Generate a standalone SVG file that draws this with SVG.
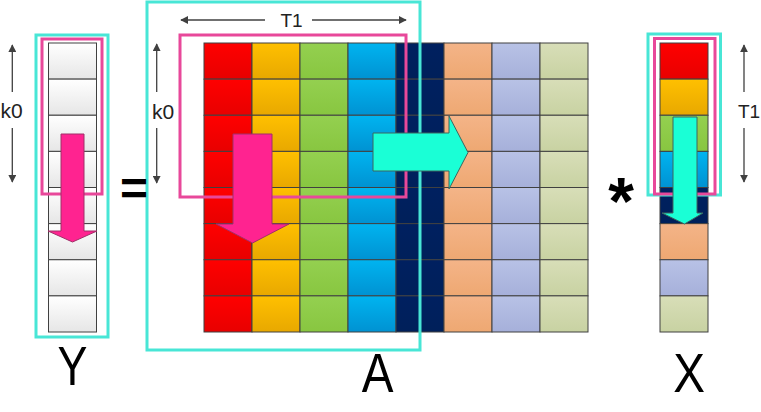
<svg xmlns="http://www.w3.org/2000/svg" width="761" height="412" viewBox="0 0 761 412">
<defs>
<linearGradient id="gRed" x1="0" y1="0" x2="0" y2="1"><stop offset="0" stop-color="#ff0000"/><stop offset="1" stop-color="#e80000"/></linearGradient>
<linearGradient id="gYel" x1="0" y1="0" x2="0" y2="1"><stop offset="0" stop-color="#ffc000"/><stop offset="1" stop-color="#e8a800"/></linearGradient>
<linearGradient id="gGrn" x1="0" y1="0" x2="0" y2="1"><stop offset="0" stop-color="#94d050"/><stop offset="1" stop-color="#88c640"/></linearGradient>
<linearGradient id="gBlu" x1="0" y1="0" x2="0" y2="1"><stop offset="0" stop-color="#00b4f0"/><stop offset="1" stop-color="#0092d2"/></linearGradient>
<linearGradient id="gNav" x1="0" y1="0" x2="0" y2="1"><stop offset="0" stop-color="#002060"/><stop offset="1" stop-color="#00205a"/></linearGradient>
<linearGradient id="gPch" x1="0" y1="0" x2="0" y2="1"><stop offset="0" stop-color="#f4b488"/><stop offset="1" stop-color="#eea872"/></linearGradient>
<linearGradient id="gLav" x1="0" y1="0" x2="0" y2="1"><stop offset="0" stop-color="#b8c2e6"/><stop offset="1" stop-color="#a6b0da"/></linearGradient>
<linearGradient id="gSag" x1="0" y1="0" x2="0" y2="1"><stop offset="0" stop-color="#d8deb8"/><stop offset="1" stop-color="#c8d2a2"/></linearGradient>
<linearGradient id="gWht" x1="0" y1="0" x2="0" y2="1"><stop offset="0" stop-color="#ffffff"/><stop offset="1" stop-color="#e6e6e6"/></linearGradient>
<marker id="ah" viewBox="0 0 10 10" refX="9" refY="5" markerWidth="8" markerHeight="8" markerUnits="userSpaceOnUse" orient="auto-start-reverse"><path d="M0,0 L10,5 L0,10 Z" fill="#404040"/></marker>
</defs>
<style>
.cell{stroke:#404040;stroke-width:1}
.r{fill:url(#gRed)} .y{fill:url(#gYel)} .g{fill:url(#gGrn)} .b{fill:url(#gBlu)} .n{fill:url(#gNav)} .p{fill:url(#gPch)} .l{fill:url(#gLav)} .s{fill:url(#gSag)} .w{fill:url(#gWht)}
.cyanbox{fill:none;stroke:#48e6d6;stroke-width:3}
.pinkbox{fill:none;stroke:#e8489a;stroke-width:3}
.dim{stroke:#404040;stroke-width:1.3;fill:none}
.lbl{font-family:"Liberation Sans",Arial,sans-serif;fill:#222222;font-size:19px;text-anchor:middle}
.k{font-size:21px}
.big{font-family:"Liberation Sans",Arial,sans-serif;fill:#000000;font-size:56px;text-anchor:middle}
.op{font-family:"Liberation Sans",Arial,sans-serif;fill:#000000;font-weight:bold;text-anchor:middle}
.parr{fill:#ff2390;stroke:#a03068;stroke-width:1}
.carr{fill:#1affd6;stroke:#3c6660;stroke-width:1}
</style>
<rect width="761" height="412" fill="#ffffff"/>

<g id="matrixA">
<g class="cell">
<rect class="r" x="204" y="43" width="48" height="36.125"/><rect class="r" x="204" y="79.125" width="48" height="36.125"/><rect class="r" x="204" y="115.25" width="48" height="36.125"/><rect class="r" x="204" y="151.375" width="48" height="36.125"/><rect class="r" x="204" y="187.5" width="48" height="36.125"/><rect class="r" x="204" y="223.625" width="48" height="36.125"/><rect class="r" x="204" y="259.75" width="48" height="36.125"/><rect class="r" x="204" y="295.875" width="48" height="36.125"/>
<rect class="y" x="252" y="43" width="48" height="36.125"/><rect class="y" x="252" y="79.125" width="48" height="36.125"/><rect class="y" x="252" y="115.25" width="48" height="36.125"/><rect class="y" x="252" y="151.375" width="48" height="36.125"/><rect class="y" x="252" y="187.5" width="48" height="36.125"/><rect class="y" x="252" y="223.625" width="48" height="36.125"/><rect class="y" x="252" y="259.75" width="48" height="36.125"/><rect class="y" x="252" y="295.875" width="48" height="36.125"/>
<rect class="g" x="300" y="43" width="48" height="36.125"/><rect class="g" x="300" y="79.125" width="48" height="36.125"/><rect class="g" x="300" y="115.25" width="48" height="36.125"/><rect class="g" x="300" y="151.375" width="48" height="36.125"/><rect class="g" x="300" y="187.5" width="48" height="36.125"/><rect class="g" x="300" y="223.625" width="48" height="36.125"/><rect class="g" x="300" y="259.75" width="48" height="36.125"/><rect class="g" x="300" y="295.875" width="48" height="36.125"/>
<rect class="b" x="348" y="43" width="48" height="36.125"/><rect class="b" x="348" y="79.125" width="48" height="36.125"/><rect class="b" x="348" y="115.25" width="48" height="36.125"/><rect class="b" x="348" y="151.375" width="48" height="36.125"/><rect class="b" x="348" y="187.5" width="48" height="36.125"/><rect class="b" x="348" y="223.625" width="48" height="36.125"/><rect class="b" x="348" y="259.75" width="48" height="36.125"/><rect class="b" x="348" y="295.875" width="48" height="36.125"/>
<rect class="n" x="396" y="43" width="48" height="36.125"/><rect class="n" x="396" y="79.125" width="48" height="36.125"/><rect class="n" x="396" y="115.25" width="48" height="36.125"/><rect class="n" x="396" y="151.375" width="48" height="36.125"/><rect class="n" x="396" y="187.5" width="48" height="36.125"/><rect class="n" x="396" y="223.625" width="48" height="36.125"/><rect class="n" x="396" y="259.75" width="48" height="36.125"/><rect class="n" x="396" y="295.875" width="48" height="36.125"/>
<rect class="p" x="444" y="43" width="48" height="36.125"/><rect class="p" x="444" y="79.125" width="48" height="36.125"/><rect class="p" x="444" y="115.25" width="48" height="36.125"/><rect class="p" x="444" y="151.375" width="48" height="36.125"/><rect class="p" x="444" y="187.5" width="48" height="36.125"/><rect class="p" x="444" y="223.625" width="48" height="36.125"/><rect class="p" x="444" y="259.75" width="48" height="36.125"/><rect class="p" x="444" y="295.875" width="48" height="36.125"/>
<rect class="l" x="492" y="43" width="48" height="36.125"/><rect class="l" x="492" y="79.125" width="48" height="36.125"/><rect class="l" x="492" y="115.25" width="48" height="36.125"/><rect class="l" x="492" y="151.375" width="48" height="36.125"/><rect class="l" x="492" y="187.5" width="48" height="36.125"/><rect class="l" x="492" y="223.625" width="48" height="36.125"/><rect class="l" x="492" y="259.75" width="48" height="36.125"/><rect class="l" x="492" y="295.875" width="48" height="36.125"/>
<rect class="s" x="540" y="43" width="48" height="36.125"/><rect class="s" x="540" y="79.125" width="48" height="36.125"/><rect class="s" x="540" y="115.25" width="48" height="36.125"/><rect class="s" x="540" y="151.375" width="48" height="36.125"/><rect class="s" x="540" y="187.5" width="48" height="36.125"/><rect class="s" x="540" y="223.625" width="48" height="36.125"/><rect class="s" x="540" y="259.75" width="48" height="36.125"/><rect class="s" x="540" y="295.875" width="48" height="36.125"/>
</g>
<rect class="cyanbox" x="147" y="2" width="273" height="348"/>
<rect class="pinkbox" x="180" y="35" width="226" height="162"/>
<text class="lbl" x="291.5" y="27">T1</text>
<text class="lbl k" x="163" y="119">k0</text>
<text class="big" transform="translate(377.5,392) scale(0.85,1)">A</text>
</g>

<g id="vectorY">
<g class="cell">
<rect class="w" x="48.5" y="43" width="48" height="36.125"/><rect class="w" x="48.5" y="79.125" width="48" height="36.125"/><rect class="w" x="48.5" y="115.25" width="48" height="36.125"/><rect class="w" x="48.5" y="151.375" width="48" height="36.125"/><rect class="w" x="48.5" y="187.5" width="48" height="36.125"/><rect class="w" x="48.5" y="223.625" width="48" height="36.125"/><rect class="w" x="48.5" y="259.75" width="48" height="36.125"/><rect class="w" x="48.5" y="295.875" width="48" height="36.125"/>
</g>
<rect class="cyanbox" x="36" y="35" width="72" height="302"/>
<rect class="pinkbox" x="42" y="39" width="60" height="155"/>
<text class="lbl k" x="11.5" y="118">k0</text>
<text class="big" transform="translate(72.5,385) scale(0.8,1)">Y</text>
</g>

<g id="vectorX">
<g class="cell">
<rect class="r" x="660" y="43" width="48" height="36.125"/><rect class="y" x="660" y="79.125" width="48" height="36.125"/><rect class="g" x="660" y="115.25" width="48" height="36.125"/><rect class="b" x="660" y="151.375" width="48" height="36.125"/><rect class="n" x="660" y="187.5" width="48" height="36.125"/><rect class="p" x="660" y="223.625" width="48" height="36.125"/><rect class="l" x="660" y="259.75" width="48" height="36.125"/><rect class="s" x="660" y="295.875" width="48" height="36.125"/>
</g>
<rect class="cyanbox" x="648" y="34" width="72.5" height="161"/>
<rect class="pinkbox" x="654.5" y="38.5" width="60.5" height="155.5"/>
<text class="lbl" x="749" y="118">T1</text>
<text class="big" transform="translate(689,392) scale(0.85,1)">X</text>
</g>

<g id="operators">
<text class="op" x="134" y="205" font-size="48">=</text>
<text class="op" x="621" y="224" font-size="66">*</text>
</g>

<g id="connectors">
<polygon class="parr" points="61,134 84,134 84,231 97,231 72.5,242 48,231 61,231"/>
<polygon class="parr" points="233,134 272,134 272,224 289,224 252.5,243 216,224 233,224"/>
<polygon class="carr" points="373,133 449,133 449,116 468,152.5 449,189 449,171 373,171"/>
<polygon class="carr" points="673,117 697,117 697,213 703,213 684.5,224 662,213 673,213"/>
<line class="dim" x1="265" y1="20" x2="181" y2="20" marker-end="url(#ah)"/>
<line class="dim" x1="312" y1="20" x2="406" y2="20" marker-end="url(#ah)"/>
<line class="dim" x1="156.7" y1="92" x2="156.7" y2="44" marker-end="url(#ah)"/>
<line class="dim" x1="156.7" y1="128" x2="156.7" y2="183" marker-end="url(#ah)"/>
<line class="dim" x1="12.3" y1="92" x2="12.3" y2="45" marker-end="url(#ah)"/>
<line class="dim" x1="12.3" y1="128" x2="12.3" y2="182" marker-end="url(#ah)"/>
<line class="dim" x1="744" y1="92" x2="744" y2="45" marker-end="url(#ah)"/>
<line class="dim" x1="744" y1="128" x2="744" y2="182" marker-end="url(#ah)"/>
</g>
</svg>
